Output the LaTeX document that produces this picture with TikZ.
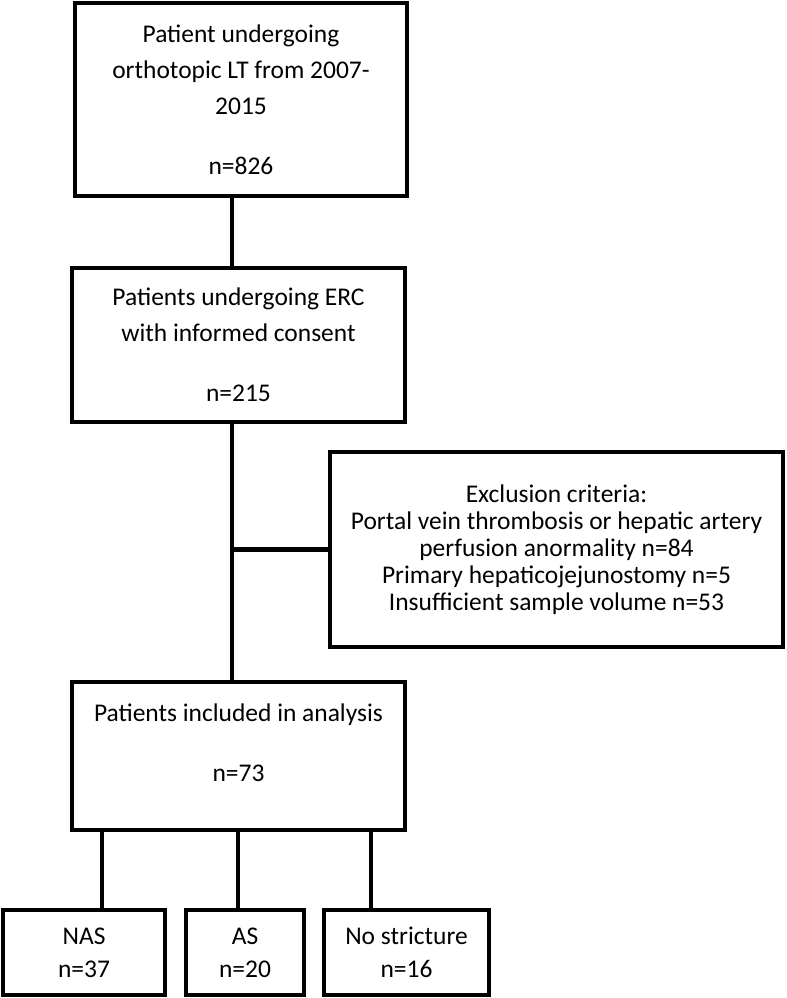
\documentclass[tikz,border=0pt]{standalone}
\usepackage{fontspec}
\setmainfont{Carlito}

\begin{document}
\begin{tikzpicture}[x=0.02cm,y=-0.02cm,
    box/.style={draw,line width=2.6pt,align=center,inner sep=0pt,font=\fontsize{14.5}{20.5}\selectfont},
    tight/.style={font=\fontsize{14.5}{15.3}\selectfont},
    small/.style={font=\fontsize{14.5}{18.7}\selectfont},
    link/.style={line width=2.6pt}]
  \useasboundingbox (0,0) rectangle (787,998);
  \def\gap{13.6pt}
  \node[box,minimum width=6.64cm,minimum height=3.86cm] (lt) at (241,99.5) {Patient undergoing\\orthotopic LT from 2007-\\2015\\[\gap]n=826};
  \node[box,minimum width=6.66cm,minimum height=3.08cm] (erc) at (238.5,345) {Patients undergoing ERC\\with informed consent\\[\gap]n=215};
  \node[box,tight,minimum width=9.06cm,minimum height=3.9cm] (excl) at (556.5,549.5) {Exclusion criteria:\\Portal vein thrombosis or hepatic artery\\perfusion anormality n=84\\Primary hepaticojejunostomy n=5\\Insufficient sample volume n=53};
  \node[box,minimum width=6.66cm,minimum height=2.96cm] (incl) at (238.5,756) {Patients included in analysis\\[\gap]n=73\\[-5.7pt]\mbox{}};
  \node[box,small,minimum width=3.24cm,minimum height=1.7cm] (nas) at (84,952.5) {NAS\\n=37};
  \node[box,small,minimum width=2.36cm,minimum height=1.7cm] (as) at (245,952.5) {AS\\n=20};
  \node[box,small,minimum width=3.3cm,minimum height=1.7cm] (nostr) at (406.5,952.5) {No stricture\\n=16};
  \coordinate (trunk) at (232,0);
  \coordinate (tapnas) at (102,0);
  \coordinate (tapas) at (238,0);
  \coordinate (tapnostr) at (371,0);
  \draw[link] (lt.south -| trunk) -- (erc.north -| trunk);
  \draw[link] (erc.south -| trunk) -- (incl.north -| trunk);
  \draw[link] (trunk |- excl.west) -- (excl.west);
  \draw[link] (incl.south -| tapnas) -- (nas.north -| tapnas);
  \draw[link] (incl.south -| tapas) -- (as.north -| tapas);
  \draw[link] (incl.south -| tapnostr) -- (nostr.north -| tapnostr);
\end{tikzpicture}
\end{document}
